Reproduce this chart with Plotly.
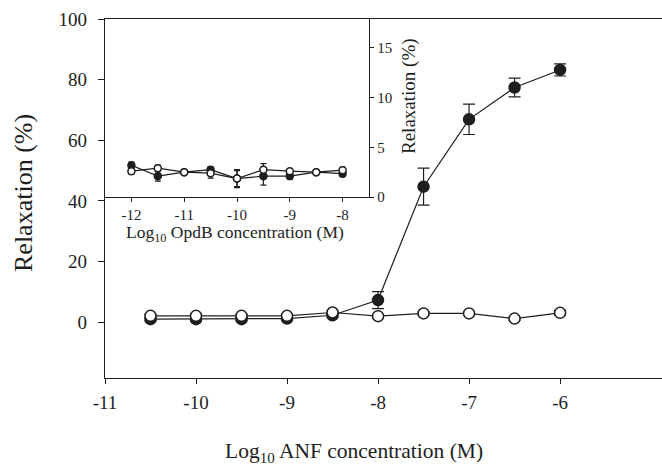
import plotly.graph_objects as go

# Main panel: ANF
anf_x = [-10.5, -10, -9.5, -9, -8.5, -8, -7.5, -7, -6.5, -6]
anf_filled = [1.0, 1.0, 1.0, 1.2, 2.3, 7.3, 44.7, 66.9, 77.4, 83.2]
anf_filled_err = [0.5, 0.5, 0.5, 0.5, 0.6, 2.8, 6.1, 5.0, 3.1, 2.0]
anf_open = [2.1, 2.1, 2.1, 2.1, 3.2, 2.0, 2.9, 2.9, 1.2, 3.1]
anf_open_err = [0.5, 0.5, 0.5, 0.5, 0.6, 0.5, 0.5, 0.5, 0.5, 0.8]

# Inset: OpdB
opdb_x = [-12, -11.5, -11, -10.5, -10, -9.5, -9, -8.5, -8]
opdb_filled = [3.2, 2.1, 2.5, 2.75, 1.85, 2.1, 2.1, 2.5, 2.35]
opdb_filled_err = [0.3, 0.5, 0.2, 0.3, 0.9, 0.9, 0.3, 0.2, 0.3]
opdb_open = [2.6, 2.9, 2.5, 2.4, 1.85, 2.75, 2.6, 2.5, 2.7]
opdb_open_err = [0.3, 0.3, 0.2, 0.5, 0.8, 0.6, 0.2, 0.2, 0.3]

main_xticks = [-11, -10, -9, -8, -7, -6]
main_xlabels = ["-11", "-10", "-9", "-8", "-7", "-6"]
main_yticks = [0, 20, 40, 60, 80, 100]
inset_xticks = [-12, -11, -10, -9, -8]
inset_xlabels = ["-12", "-11", "-10", "-9", "-8"]
inset_yticks = [0, 5, 10, 15]

INK = "#1e1e1e"
FONT = "Liberation Serif"

fig = go.Figure()

def add_series(x, y, err, filled, xa, ya, size, cap):
    fig.add_trace(go.Scatter(
        x=x, y=y, mode="lines+markers", xaxis=xa, yaxis=ya,
        line=dict(color=INK, width=1.2),
        marker=dict(size=size, color=INK if filled else "white",
                    line=dict(color=INK, width=1.5)),
        error_y=dict(type="data", array=err, color=INK, thickness=1.2, width=cap),
        showlegend=False,
    ))

add_series(anf_x, anf_filled, anf_filled_err, True, "x", "y", 11, 6)
add_series(anf_x, anf_open, anf_open_err, False, "x", "y", 11, 6)
add_series(opdb_x, opdb_filled, opdb_filled_err, True, "x2", "y2", 7, 3)
add_series(opdb_x, opdb_open, opdb_open_err, False, "x2", "y2", 7, 3)

W, H = 662, 466
L, R, T, B = 105, 0, 19, 88
pw, ph = W - L - R, H - T - B

ax_common = dict(showgrid=False, zeroline=False, showline=True, linecolor=INK,
                 linewidth=1.3, ticks="outside", tickcolor=INK, tickwidth=1.2)

fig.update_layout(
    width=W, height=H,
    margin=dict(l=L, r=R, t=T, b=B),
    paper_bgcolor="white", plot_bgcolor="white",
    font=dict(family=FONT, color=INK),
    xaxis=dict(**ax_common, range=[-11, -4.88], tickvals=main_xticks,
               ticktext=main_xlabels, ticklabelstandoff=2,
               ticklen=5, tickfont=dict(size=19), mirror=True, domain=[0, 1]),
    yaxis=dict(**ax_common, range=[-18.4, 100], tickvals=main_yticks,
               ticklabelstandoff=7,
               ticklen=6, tickfont=dict(size=19), domain=[0, 1]),
    xaxis2=dict(**ax_common, range=[-12.5, -7.5], tickvals=inset_xticks,
                ticktext=inset_xlabels,
                ticklen=4, tickfont=dict(size=15), anchor="y2", mirror=True,
                domain=[0, (369 - L) / pw]),
    yaxis2=dict(**ax_common, range=[0, 17.9], tickvals=inset_yticks,
                ticklen=4, tickfont=dict(size=15), anchor="x2", side="right",
                mirror=True, domain=[(H - B - 197) / ph, 1]),
    shapes=[dict(type="rect", xref="paper", yref="paper",
                 x0=0, x1=(369 - L) / pw, y0=(H - B - 197) / ph, y1=1,
                 fillcolor="white", line=dict(width=0), layer="below")],
    annotations=[
        dict(text="Log<sub>10</sub> ANF concentration (M)", xref="paper", yref="paper",
             x=(354 - L) / pw, y=(H - B - 452) / ph, showarrow=False,
             font=dict(size=21.5), xanchor="center", yanchor="middle"),
        dict(text="Relaxation (%)", xref="paper", yref="paper", textangle=-90,
             x=(23 - L) / pw, y=(H - B - 193) / ph, showarrow=False,
             font=dict(size=26), xanchor="center", yanchor="middle"),
        dict(text="Log<sub>10</sub> OpdB concentration (M)", xref="paper", yref="paper",
             x=(234.5 - L) / pw, y=(H - B - 233) / ph, showarrow=False,
             font=dict(size=17.5), xanchor="center", yanchor="middle"),
        dict(text="Relaxation (%)", xref="paper", yref="paper", textangle=-90,
             x=(409 - L) / pw, y=(H - B - 96) / ph, showarrow=False,
             font=dict(size=19), xanchor="center", yanchor="middle"),
    ],
)

fig.write_html("out.html", config={"displayModeBar": False},
               post_script="document.body.style.margin='0px';")
